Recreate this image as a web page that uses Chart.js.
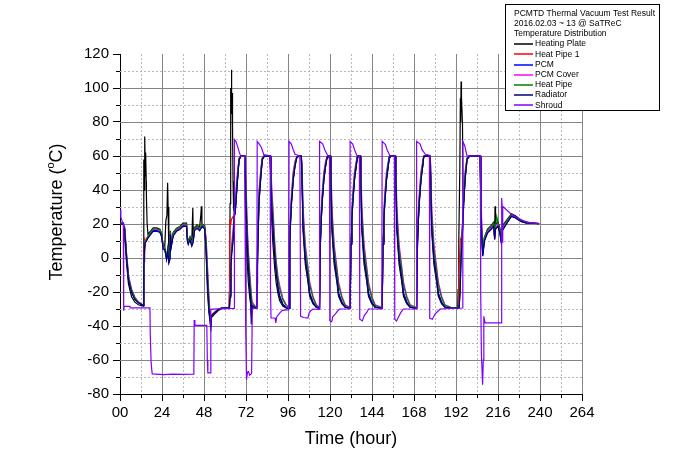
<!DOCTYPE html>
<html><head><meta charset="utf-8">
<script src="https://cdn.jsdelivr.net/npm/chart.js@4.4.1/dist/chart.umd.min.js"></script>
<style>html,body{margin:0;padding:0;background:#fff;}</style>
</head><body>
<canvas id="c" width="680" height="453"></canvas>
<script>
// ---- Data: [time (hour), temperature (°C)] ----
const seriesNames = ['Heating Plate','Heat Pipe 1','PCM','PCM Cover','Heat Pipe','Radiator','Shroud'];
const legendTitle = ['PCMTD Thermal Vacuum Test Result','2016.02.03 ~ 13 @ SaTReC','Temperature Distribution'];
const xTickStep = 24, yTickStep = 20;

const heatingPlate = [
[0,20.5],[1.9,20.5],[2.3,16],[2.7,12],[3.3,4],[3.8,-4],[4.2,-8],[4.8,-15],[5.7,-19],[6.7,-23],[8.5,-26],[10.5,-27.5],[12.4,-28],[13.3,-28.3],
[13.5,-20],[13.7,58],[13.85,40],[14,50],[14.1,66],[14.25,71.5],[14.4,55],[14.5,62],[14.65,48],[14.8,62],[15,45],[15.1,36],[15.5,20],[16,14],[18,16.5],[19,17.7],[21,17.7],[22.8,17],[23.8,14.5],[24.7,7],[25.6,7],[26.2,22],[26.8,25],[27.2,44.3],[27.5,30],[27.9,2],[28.5,1],[28.8,16],[29.2,8],[30.4,15],[32.3,17.5],[34.2,18.5],[36,20.5],[38,20.5],[38.5,12],[39,10],[40,12.5],[41,9],[41.6,29.4],[41.9,11],[42.5,18],[44,19.5],[45.5,18],[46.2,25.5],[46.5,30.4],[46.8,20],[48.4,19],[49.2,3],[50,-20],[50.8,-32],[51.3,-36],[51.9,-38],[52.3,-35],[54,-33],[56,-31],[58,-29.8],[62.3,-29.6],
[62.5,-23],[62.7,-20],[62.9,32],[63.1,79],[63.4,100],[63.55,85],[63.7,110.7],[63.85,92],[64,97],[64.3,77],[64.6,45],[64.9,30],[65.3,26],[65.8,27],[66.6,39],[67.6,53],[68.1,58.5],[69.1,60.3],[71.4,60.3],[71.7,30],[72.2,12],[72.7,-2],[73.3,-14],[74.2,-24],[74.8,-28],[75.6,-29.5],[78,-29.6],
[78.3,-15],[78.6,5],[79.4,36],[80.5,50],[81.3,58.5],[82.4,60.3],[85.8,60.3],[86.2,44],[86.7,22],[87.4,8],[88.4,-6],[89.3,-15],[90.3,-21],[91.2,-25],[93,-28.3],[95,-29.4],[96.6,-29.6],
[97,10],[97.5,24],[98,34],[99,47],[100,55],[101,59.5],[102,60.3],[103.6,60.3],[104,46],[104.6,16],[105.9,-4],[107.4,-14],[108.4,-22.5],[110.3,-27],[112.2,-29],[114,-29.6],
[114.5,10],[115,24],[115.5,34],[116.5,47],[117.5,55],[118.3,59.5],[118.8,60.3],[120.1,60.3],[120.5,46],[121.1,16],[122.4,-4],[123.9,-14],[124.9,-22.5],[126.8,-27],[128.7,-29],[131.5,-29.6],
[132,10],[132.5,24],[133,34],[134,47],[135,55],[135.6,59.5],[135.9,60.3],[137.2,60.3],[137.6,46],[138.2,16],[139.5,-4],[141,-14],[142,-22.5],[143.9,-27],[145.8,-29],[149.8,-29.6],
[150.3,10],[150.8,24],[151.3,34],[152.3,47],[153.3,55],[153.9,59.5],[154.2,60.3],[157.2,60.3],[157.6,46],[158.2,16],[159.5,-4],[161,-14],[162,-22.5],[163.9,-27],[165.8,-29],[169.5,-29.6],
[170,10],[170.5,24],[171,34],[172,47],[173,55],[173.5,59.5],[173.8,60.3],[177.1,60.3],[177.5,46],[178.1,16],[179.4,-4],[180.9,-14],[181.9,-22.5],[183.8,-27],[185.7,-29],[189,-29.4],[193,-29.5],
[193.2,-18.6],[193.6,10],[194.2,54],[194.5,94],[194.7,80],[194.9,103.8],[195.05,88],[195.2,95],[195.7,79],[196,40],[196.4,33],[197.2,47],[198.3,58.5],[199.6,60.3],[205.8,60.3],[206.2,32],[206.6,16],[207.3,3],[208.2,12],[210,17],[212,19],[213.5,21],[214.1,14],[214.3,30.4],[214.6,20],[216,21],[217,18],[217.8,13],[218.5,19],[220,21],[221.5,23],[223.7,26],[226,24.8],[229,22.3],[232,21],[239.5,20.3]
];

const heatPipe1 = [
[0,20.2],[1.9,20.2],[2.3,17.5],[2.7,15.5],[3.3,8],[3.8,0],[4.2,-4],[4.8,-11.5],[5.7,-15.8],[6.7,-19.8],[8.5,-24],[10.5,-26],[12.4,-27.3],[13.3,-27.8],
[13.45,-15],[13.55,-6],[13.65,3],[13.8,-2],[14,12],[14.2,4],[14.5,10],[14.8,10.5],[15.2,11.2],[16.2,13],[18,15.3],[19,16.5],[21,16.5],[22.8,15.8],[23.8,13.2],[24.7,5.8],[25.6,5.8],[26.6,-0.2],[27.3,4.8],[27.9,-2.2],[28.5,-0.2],[28.8,14.8],[29.2,6.8],[30.4,13.8],[32.3,16.5],[34.2,17.5],[36,19.3],[38,19.3],[38.5,10.8],[39,8.8],[40,11.6],[41,7.8],[41.8,9.8],[42.5,16.8],[44,18.3],[45.5,16.8],[47,19.3],[48.4,17.8],[49.2,6],[50,-14],[50.8,-29],[51.3,-34.5],[51.9,-41],[52.3,-34],[54,-32.4],[56,-30.4],[58,-29.5],[62.2,-29.4],
[62.4,-20],[62.6,10],[62.9,22],[63.4,21],[63.8,23],[64.7,24.5],[65.3,25],[65.8,27],[66.6,39],[67.6,52.5],[68.1,58],[69.1,59.8],[71.4,59.8],[71.8,41],[72.2,25],[72.7,9.5],[73.3,-4],[74.2,-18],[74.8,-24],[75,-35],[75.3,-35],[75.6,-28.5],[77,-29],[78.1,-29.4],
[78.6,-0.5],[79.4,32.8],[80.5,48.3],[81.3,58],[82.4,59.8],[85.8,59.8],[86.2,46],[86.7,31],[87.4,19.5],[88.4,1.5],[89.3,-8.5],[90.3,-17.5],[91.2,-22.5],[93,-27.2],[95,-29.3],[96.6,-29.5],
[97,8.5],[97.5,22.5],[98,32.5],[99,46.5],[100,54.3],[101,59.1],[102,59.8],[103.6,59.8],[104,48.5],[104.6,19.3],[105.9,-0.5],[107.4,-11.5],[108.4,-21],[110.3,-26.2],[112.2,-28.9],[114,-29.5],
[114.5,8.5],[115,22.5],[115.5,32.5],[116.5,46.5],[117.5,54.3],[118.3,59.1],[118.8,59.8],[120.1,59.8],[120.5,48.5],[121.1,19.3],[122.4,-0.5],[123.9,-11.5],[124.9,-21],[126.8,-26.2],[128.7,-28.9],[131.5,-29.5],
[132,8.5],[132.5,22.5],[133,32.5],[134,46.5],[135,54.3],[135.6,59.1],[135.9,59.8],[137.2,59.8],[137.6,48.5],[138.2,19.3],[139.5,-0.5],[141,-11.5],[142,-21],[143.9,-26.2],[145.8,-28.9],[149.8,-29.5],
[150.3,8.5],[150.8,22.5],[151.3,32.5],[152.3,46.5],[153.3,54.3],[153.9,59.1],[154.2,59.8],[157.2,59.8],[157.6,48.5],[158.2,19.3],[159.5,-0.5],[161,-11.5],[162,-21],[163.9,-26.2],[165.8,-28.9],[169.5,-29.5],
[170,8.5],[170.5,22.5],[171,32.5],[172,46.5],[173,54.3],[173.5,59.1],[173.8,59.8],[177.1,59.8],[177.5,48.5],[178.1,19.3],[179.4,-0.5],[180.9,-11.5],[181.9,-21],[183.8,-26.2],[185.7,-28.9],[189,-29.3],[193.3,-29.3],
[193.5,-17],[194,0],[194.5,10.8],[195,12],[195.7,18.6],[196.4,32.5],[197.2,46.5],[198.3,58],[199.6,59.8],[205.8,59.8],[206.2,32],[206.6,16],[207.3,2],[208.2,10.5],[210,15.3],[212,17.3],[213.5,19.2],[214.1,11.5],[214.6,17.6],[216,19.2],[217,15.6],[217.8,10.2],[218.5,16.6],[220,19.2],[221.5,21.5],[223.7,24.8],[226,23.8],[229,21.7],[232,20.7],[239.5,20.2]
];

const pcm = [
[0,20],[1.9,20],[2.3,17.3],[2.7,15.3],[3.3,7.5],[3.8,-0.5],[4.2,-4.5],[4.8,-12],[5.7,-16.2],[6.7,-20],[8.5,-24.2],[10.5,-26.2],[12.4,-27.4],[13.3,-27.9],
[13.6,-4],[14,6],[14.3,9],[15.2,10.5],[16.2,12.5],[18,15],[19,16.2],[21,16.2],[22.8,15.5],[23.8,13],[24.7,5.5],[25.6,5.5],[26.6,-0.5],[27.3,4.5],[27.9,-2.5],[28.5,-0.5],[28.8,14.5],[29.2,6.5],[30.4,13.5],[32.3,16.2],[34.2,17.2],[36,19],[38,19],[38.5,10.5],[39,8.5],[40,11.3],[41,7.5],[41.8,9.5],[42.5,16.5],[44,18],[45.5,16.5],[47,19],[48.4,17.5],[49.2,7],[50,-12],[50.8,-28],[51.3,-34],[51.9,-40],[52.3,-34],[54,-32.3],[56,-30.4],[58,-29.5],[62.5,-29.4],
[62.9,-22],[63.4,-4],[63.8,3],[64.7,11.5],[65.3,24.8],[65.8,26.5],[66.6,39],[67.6,52.5],[68.1,58],[69.1,59.8],[71.4,59.8],[71.8,42],[72.2,26],[72.7,10],[73.3,-3.5],[74.2,-17],[74.8,-23.5],[75,-33],[75.3,-33],[75.6,-28],[77,-29],[78.1,-29.4],
[78.6,0],[79.4,33],[80.5,48.5],[81.3,58],[82.4,59.8],[85.8,59.8],[86.2,47],[86.7,32],[87.4,20],[88.4,2],[89.3,-8],[90.3,-17],[91.2,-22],[93,-27],[95,-29.2],[96.6,-29.5],
[97,9],[97.5,23],[98,33],[99,47],[100,54.5],[101,59.2],[102,59.8],[103.6,59.8],[104,49.5],[104.6,20],[105.9,0],[107.4,-11],[108.4,-20.5],[110.3,-26],[112.2,-28.8],[114,-29.5],
[114.5,9],[115,23],[115.5,33],[116.5,47],[117.5,54.5],[118.3,59.2],[118.8,59.8],[120.1,59.8],[120.5,49.5],[121.1,20],[122.4,0],[123.9,-11],[124.9,-20.5],[126.8,-26],[128.7,-28.8],[131.5,-29.5],
[132,9],[132.5,23],[133,33],[134,47],[135,54.5],[135.6,59.2],[135.9,59.8],[137.2,59.8],[137.6,49.5],[138.2,20],[139.5,0],[141,-11],[142,-20.5],[143.9,-26],[145.8,-28.8],[149.8,-29.5],
[150.3,9],[150.8,23],[151.3,33],[152.3,47],[153.3,54.5],[153.9,59.2],[154.2,59.8],[157.2,59.8],[157.6,49.5],[158.2,20],[159.5,0],[161,-11],[162,-20.5],[163.9,-26],[165.8,-28.8],[169.5,-29.5],
[170,9],[170.5,23],[171,33],[172,47],[173,54.5],[173.5,59.2],[173.8,59.8],[177.1,59.8],[177.5,49.5],[178.1,20],[179.4,0],[180.9,-11],[181.9,-20.5],[183.8,-26],[185.7,-28.8],[189,-29.3],[193.8,-29.4],
[194.3,-19],[194.9,0],[195.9,19.5],[196.4,33],[197.2,47],[198.3,58],[199.6,59.8],[205.8,59.8],[206.2,31],[206.6,15.5],[207.3,1.5],[208.2,10.2],[210,15],[212,17],[213.5,19],[214.1,11.2],[214.6,17.4],[216,19],[217,15.4],[217.8,10],[218.5,16.4],[220,19],[221.5,21.3],[223.7,24.7],[226,23.7],[229,21.6],[232,20.6],[239.5,20.2]
];

const pcmCover = [
[0,20.3],[1.9,20.3],[2.3,18.5],[2.7,17],[3.3,10],[3.8,2],[4.2,-2],[4.8,-9.5],[5.7,-14],[6.7,-18.5],[8.5,-23],[10.5,-25.8],[12.4,-27],[13.3,-27.6],
[13.6,-3],[14,6],[14.3,9.5],[15.2,11],[16.2,13],[18,15.5],[19,16.8],[21,16.8],[22.8,16],[23.8,13.5],[24.7,6],[25.6,6],[26.6,0],[27.3,5],[27.9,-2],[28.5,0],[28.8,15],[29.2,7],[30.4,14],[32.3,16.8],[34.2,17.8],[36,19.5],[38,19.5],[38.5,11],[39,9],[40,11.8],[41,8],[41.8,10],[42.5,17],[44,18.5],[45.5,17],[47,19.5],[48.4,18],[49.2,12],[50,-5],[50.8,-22],[51.3,-30],[51.9,-34],[52.3,-33.5],[54,-31.8],[56,-30.2],[58,-29.4],[62.5,-29.2],
[62.9,-14],[63.4,0],[63.8,8],[64.7,18],[65.3,26],[65.8,30],[66.6,45],[67.6,55],[68.1,59],[69.1,59.8],[71.4,59.8],[71.8,54],[72.2,38],[72.7,20],[73.3,5],[74.2,-9],[74.8,-18],[75.3,-24],[75.6,-26],[77,-28],[78.1,-29],
[78.6,8],[79.4,40],[80.5,53],[81.3,59],[82.4,59.8],[85.8,59.8],[86.2,55],[86.7,42],[87.4,30],[88.4,10],[89.3,-2],[90.3,-11],[91.2,-16],[93,-23.5],[95,-27.5],[96.6,-29.2],
[97,14],[97.5,28],[98,38],[99,51],[100,57],[101,59.5],[102,59.8],[103.6,59.8],[104,56],[104.6,30],[105.9,8],[107.4,-5],[108.4,-14],[110.3,-22.5],[112.2,-27.5],[114,-29.2],
[114.5,14],[115,28],[115.5,38],[116.5,51],[117.5,57],[118.3,59.5],[118.8,59.8],[120.1,59.8],[120.5,56],[121.1,30],[122.4,8],[123.9,-5],[124.9,-14],[126.8,-22.5],[128.7,-27.5],[131.5,-29.2],
[132,14],[132.5,28],[133,38],[134,51],[135,57],[135.6,59.5],[135.9,59.8],[137.2,59.8],[137.6,56],[138.2,30],[139.5,8],[141,-5],[142,-14],[143.9,-22.5],[145.8,-27.5],[149.8,-29.2],
[150.3,14],[150.8,28],[151.3,38],[152.3,51],[153.3,57],[153.9,59.5],[154.2,59.8],[157.2,59.8],[157.6,56],[158.2,30],[159.5,8],[161,-5],[162,-14],[163.9,-22.5],[165.8,-27.5],[169.5,-29.2],
[170,14],[170.5,28],[171,38],[172,51],[173,57],[173.5,59.5],[173.8,59.8],[177.1,59.8],[177.5,56],[178.1,30],[179.4,8],[180.9,-5],[181.9,-14],[183.8,-22.5],[185.7,-27.5],[189,-29],[193.8,-29.2],
[194.3,-12],[194.9,6],[195.9,24],[196.4,38],[197.2,51],[198.3,59],[199.6,59.8],[205.8,59.8],[206.2,44],[206.6,24],[207.3,8],[208.2,11],[210,15.8],[212,17.8],[213.5,19.8],[214.1,12.5],[214.6,18],[216,19.8],[217,16],[217.8,11],[218.5,17],[220,19.8],[221.5,22],[223.7,25],[226,24],[229,21.8],[232,20.7],[239.5,20.2]
];

const heatPipe = [
[0,20.5],[1.9,20.5],[2.3,18],[2.7,16],[3.3,9],[3.8,1],[4.2,-3],[4.8,-10.8],[5.7,-15],[6.7,-19],[8.5,-23.5],[10.5,-26],[12.4,-27.2],[13.3,-27.8],
[13.6,-8],[14,3],[14.3,9.5],[15.2,11.5],[16.2,13.5],[18,16],[19,17.2],[21,17.2],[22.8,16.5],[23.8,14],[24.7,7],[25.6,6.5],[26.6,1],[27.3,6],[27.9,-1],[28.5,1],[28.8,15.5],[29.2,8],[30.4,14.5],[32.3,17.2],[34.2,18.2],[36,20],[38,20],[38.5,12],[39,10],[40,12.3],[41,9],[41.8,11],[42.5,17.5],[44,19],[45.5,17.5],[47,20],[48.4,18.5],[49.2,10],[50,-8],[50.8,-25],[51.3,-32],[51.9,-36],[52.3,-34],[54,-32],[56,-30.5],[58,-29.5],[62.5,-29.2],
[62.9,-20],[63.4,-2],[63.8,5],[64.7,14],[65.3,26],[65.8,28],[66.6,42],[67.6,54],[68.1,58.5],[69.1,59.8],[71.4,59.8],[71.8,50],[72.2,32],[72.7,16],[73.3,2],[74.2,-12],[74.8,-20],[75.3,-26],[75.6,-27],[77,-28.4],[78.1,-29.2],
[78.6,4],[79.4,36],[80.5,51],[81.3,58.5],[82.4,59.8],[85.8,59.8],[86.2,52],[86.7,38],[87.4,25],[88.4,7],[89.3,-4],[90.3,-13],[91.2,-18],[93,-24.5],[95,-28],[96.6,-29.4],
[97,12],[97.5,26],[98,35],[99,49],[100,56],[101,59.3],[102,59.8],[103.6,59.8],[104,54],[104.6,26],[105.9,5],[107.4,-7],[108.4,-16],[110.3,-23.5],[112.2,-27.8],[114,-29.4],
[114.5,12],[115,26],[115.5,35],[116.5,49],[117.5,56],[118.3,59.3],[118.8,59.8],[120.1,59.8],[120.5,54],[121.1,26],[122.4,5],[123.9,-7],[124.9,-16],[126.8,-23.5],[128.7,-27.8],[131.5,-29.4],
[132,12],[132.5,26],[133,35],[134,49],[135,56],[135.6,59.3],[135.9,59.8],[137.2,59.8],[137.6,54],[138.2,26],[139.5,5],[141,-7],[142,-16],[143.9,-23.5],[145.8,-27.8],[149.8,-29.4],
[150.3,12],[150.8,26],[151.3,35],[152.3,49],[153.3,56],[153.9,59.3],[154.2,59.8],[157.2,59.8],[157.6,54],[158.2,26],[159.5,5],[161,-7],[162,-16],[163.9,-23.5],[165.8,-27.8],[169.5,-29.4],
[170,12],[170.5,26],[171,35],[172,49],[173,56],[173.5,59.3],[173.8,59.8],[177.1,59.8],[177.5,54],[178.1,26],[179.4,5],[180.9,-7],[181.9,-16],[183.8,-23.5],[185.7,-27.8],[189,-29],[193.8,-29.2],
[194.3,-14],[194.9,4],[195.9,22],[196.4,36],[197.2,49],[198.3,58.5],[199.6,59.8],[205.8,59.8],[206.2,40],[206.6,20],[207.3,6],[208.2,12],[210,16.5],[212,18.5],[213.5,20.5],[214.1,14],[214.6,19],[215.3,24.5],[216,20.5],[217,17],[217.8,12],[218.5,18],[220,20.3],[221.5,22.5],[223.7,25.5],[226,24.3],[229,22],[232,20.8],[239.5,20.3]
];

const radiator = [
[0,20],[1.9,20],[2.3,17],[2.7,14.9],[3.3,6.8],[3.8,-1],[4.2,-4.9],[4.8,-12.8],[5.7,-16.7],[6.7,-20.5],[8.5,-24.5],[10.5,-26.4],[12.4,-27.5],[13.3,-28],
[13.6,-5],[14,5],[14.3,8.8],[15.2,10],[16.2,12],[18,14.5],[19,15.7],[21,15.7],[22.8,15],[23.8,12.5],[24.7,5],[25.6,4.9],[26.6,-1],[27.3,4],[27.9,-3],[28.5,-1],[28.8,14],[29.2,6],[30.4,13],[32.3,15.7],[34.2,16.7],[36,18.6],[38,18.6],[38.5,10],[39,8],[40,10.8],[41,7],[41.8,9],[42.5,16],[44,17.5],[45.5,16],[47,18.5],[48.4,17],[49.2,5],[50,-15],[50.8,-30],[51.3,-35],[51.9,-43],[52.3,-34],[54,-32.5],[56,-30.5],[58,-29.5],[62.5,-29.4],
[62.9,-23],[63.4,-5],[63.8,2],[64.7,10.8],[65.3,24.5],[65.8,26],[66.6,38],[67.6,52],[68.1,57.8],[69.1,59.8],[71.4,59.8],[71.8,40],[72.2,24.5],[72.7,8.8],[73.3,-4.9],[74.2,-18.6],[74.8,-24.5],[75,-39],[75.3,-39],[75.6,-28.5],[77,-29],[78.1,-29.4],
[78.6,-1],[79.4,32.4],[80.5,48],[81.3,57.8],[82.4,59.8],[85.8,59.8],[86.2,45],[86.7,30],[87.4,18.6],[88.4,1],[89.3,-9],[90.3,-18],[91.2,-23],[93,-27.5],[95,-29.4],[96.6,-29.6],
[97,8],[97.5,22],[98,32],[99,46],[100,54],[101,59],[102,59.8],[103.6,59.8],[104,48],[104.6,18.6],[105.9,-1],[107.4,-12],[108.4,-21.5],[110.3,-26.5],[112.2,-29],[114,-29.6],
[114.5,8],[115,22],[115.5,32],[116.5,46],[117.5,54],[118.3,59],[118.8,59.8],[120.1,59.8],[120.5,48],[121.1,18.6],[122.4,-1],[123.9,-12],[124.9,-21.5],[126.8,-26.5],[128.7,-29],[131.5,-29.6],
[132,8],[132.5,22],[133,32],[134,46],[135,54],[135.6,59],[135.9,59.8],[137.2,59.8],[137.6,48],[138.2,18.6],[139.5,-1],[141,-12],[142,-21.5],[143.9,-26.5],[145.8,-29],[149.8,-29.6],
[150.3,8],[150.8,22],[151.3,32],[152.3,46],[153.3,54],[153.9,59],[154.2,59.8],[157.2,59.8],[157.6,48],[158.2,18.6],[159.5,-1],[161,-12],[162,-21.5],[163.9,-26.5],[165.8,-29],[169.5,-29.6],
[170,8],[170.5,22],[171,32],[172,46],[173,54],[173.5,59],[173.8,59.8],[177.1,59.8],[177.5,48],[178.1,18.6],[179.4,-1],[180.9,-12],[181.9,-21.5],[183.8,-26.5],[185.7,-29],[189,-29.4],[193.8,-29.4],
[194.3,-21],[194.9,-1],[195.9,18.6],[196.4,32],[197.2,46],[198.3,57.8],[199.6,59.8],[205.8,59.8],[206.2,30],[206.6,14.7],[207.3,1],[208.2,9.8],[210,14.7],[212,16.7],[213.5,18.6],[214.1,10.8],[214.6,17],[216,18.6],[217,15],[217.8,9.5],[218.5,16],[220,18.6],[221.5,21],[223.7,24.5],[226,23.5],[229,21.5],[232,20.6],[239.5,20.2]
];

const shroud = [
[0,28.4],[0.5,24],[1.5,20.7],[1.9,20.7],[2.1,-31],[2.4,-28.4],[5.7,-28.4],[5.8,-29.3],[17.1,-29.3],[17.3,-45],[17.8,-62],[18.4,-68.2],[25,-68.6],[30,-68.3],[36,-68.5],[42.2,-68.4],[42.4,-36.5],[42.8,-39.6],[49.6,-39.6],[49.9,-60],[50.2,-67.6],[51.5,-67.6],[51.9,-30.2],[58,-29.8],[65.2,-29.6],
[65.4,69.6],[66.2,68.6],[67.2,65.7],[68.2,62],[69.1,59.7],[71.2,59.7],[71.5,20],[71.8,-40],[72.3,-71.6],[72.9,-67],[73.4,-66.8],[74.1,-69],[75.2,-68],[75.6,-29.6],[78.2,-29.6],
[78.4,68.6],[79.6,67],[80.8,65],[82.2,60.8],[85.8,60],[86,-18.6],[86.3,-35.3],[88.6,-35.3],[89,-38.2],[89.6,-34.5],[91.2,-32.4],[92.8,-30.8],[96.4,-30.4],
[96.6,68.6],[97.9,67],[98.9,64],[100,61],[102.8,60],[103.2,-34.3],[105,-35],[107.4,-35.3],[108,-32.5],[109,-31],[110.3,-30],[113.9,-30.2],
[114.05,68.6],[115.9,67],[117,63.7],[118.8,60],[119.7,60],[119.9,-37],[121,-37.5],[121.6,-34.5],[123,-33],[124.5,-31],[125.5,-30],[131.3,-30],
[131.5,68.6],[133,67],[134,63.7],[135.5,60],[136.8,60],[137,-36],[138.5,-37],[139.5,-34],[141,-32],[142,-30],[149.6,-30],
[149.8,68.6],[151.7,66.7],[152.6,63.7],[154.3,60],[156.8,60],[157,-36],[158,-37],[159.5,-34],[160.5,-32],[162,-30],[169.3,-30],
[169.5,68.6],[171.5,67],[172.6,63.7],[174.5,61],[176.8,60.5],[177,-35.5],[178.5,-36],[180,-33],[181.5,-31.5],[183,-30],[190,-29.6],[195.7,-29.4],
[195.9,68.6],[197,66],[198.3,60],[205.9,60],[206.1,-18.6],[206.5,-56],[207.2,-74.5],[207.6,-60],[207.9,-34.3],[208.6,-38.2],[217.8,-38.2],[218.1,35.3],[218.4,30.4],[218.6,9],[218.8,30.4],[222.8,26.5],[227,23.5],[231.8,21.5],[235,20.6],[239.5,20.2]
];

const seriesData = [heatingPlate, heatPipe1, pcm, pcmCover, heatPipe, radiator, shroud];
const seriesColors = ['#000000','#ff0000','#0000ff','#ff00ff','#008000','#000080','#8000ff'];
// -----------------------------------------------------------------------------

const FONT = "'Liberation Sans', Arial, Helvetica, sans-serif";

const datasets = seriesNames.map((name, i) => ({
  label: name,
  data: seriesData[i].map(p => ({x: p[0], y: p[1]})),
  borderColor: seriesColors[i],
  backgroundColor: seriesColors[i],
  borderWidth: 1.2,
  pointRadius: 0,
  tension: 0,
  fill: false,
  order: seriesNames.length - 1 - i   // later series drawn on top, like the original
}));

const extras = {
  id: 'extras',
  beforeDatasetsDraw(chart) {
    const {ctx, chartArea: a, scales: {x, y}} = chart;
    ctx.save();
    ctx.lineWidth = 1;
    const ln = (x1, y1, x2, y2) => { ctx.beginPath(); ctx.moveTo(x1, y1); ctx.lineTo(x2, y2); ctx.stroke(); };
    ctx.strokeStyle = '#b9b9b9';
    ctx.setLineDash([2, 2]);
    for (let v = x.min + xTickStep / 2; v < x.max; v += xTickStep) {
      const px = Math.round(x.getPixelForValue(v)) + 0.5; ln(px, a.top, px, a.bottom);
    }
    for (let v = y.min + yTickStep / 2; v < y.max; v += yTickStep) {
      const py = Math.round(y.getPixelForValue(v)) + 0.5; ln(a.left, py, a.right, py);
    }
    ctx.setLineDash([]);
    ctx.strokeStyle = '#858585';
    for (let v = x.min + xTickStep; v <= x.max; v += xTickStep) {
      const px = Math.round(x.getPixelForValue(v)) + 0.5; ln(px, a.top, px, a.bottom);
    }
    for (let v = y.min + yTickStep; v < y.max; v += yTickStep) {
      const py = Math.round(y.getPixelForValue(v)) + 0.5; ln(a.left, py, a.right, py);
    }
    ctx.restore();
  },
  afterDraw(chart) {
    const {ctx, chartArea: a, scales: {x, y}} = chart;
    ctx.save();
    ctx.lineWidth = 1;
    ctx.strokeStyle = '#000';
    const ln = (x1, y1, x2, y2) => { ctx.beginPath(); ctx.moveTo(x1, y1); ctx.lineTo(x2, y2); ctx.stroke(); };
    for (let v = x.min + xTickStep / 2; v < x.max; v += xTickStep) {
      const px = Math.round(x.getPixelForValue(v)) + 0.5; ln(px, a.bottom, px, a.bottom + 4);
    }
    for (let v = y.min + yTickStep / 2; v < y.max; v += yTickStep) {
      const py = Math.round(y.getPixelForValue(v)) + 0.5; ln(a.left - 4, py, a.left, py);
    }
    // y axis title with superscript o
    ctx.fillStyle = '#000';
    ctx.translate(57, 212);
    ctx.rotate(-Math.PI / 2);
    ctx.textBaseline = 'middle';
    ctx.textAlign = 'left';
    const big = '18px ' + FONT, small = '11px ' + FONT;
    const p1 = 'Temperature (', p2 = 'o', p3 = 'C)';
    ctx.font = big; const w1 = ctx.measureText(p1).width, w3 = ctx.measureText(p3).width;
    ctx.font = small; const w2 = ctx.measureText(p2).width;
    let sx = -(w1 + w2 + w3) / 2;
    ctx.font = big; ctx.fillText(p1, sx, 0); sx += w1;
    ctx.font = small; ctx.fillText(p2, sx, -6); sx += w2;
    ctx.font = big; ctx.fillText(p3, sx, 0);
    ctx.setTransform(1, 0, 0, 1, 0, 0);
    // legend box
    const bx = 505, by = 4, bw = 154, bh = 106;
    ctx.fillStyle = '#fff';
    ctx.fillRect(bx, by, bw, bh);
    ctx.lineWidth = 1;
    ctx.strokeStyle = '#000';
    ctx.strokeRect(bx + 0.5, by + 0.5, bw, bh);
    ctx.font = '8.5px ' + FONT;
    ctx.textBaseline = 'middle';
    ctx.textAlign = 'left';
    let yy = 13.5;
    const dy = 10.2;
    legendTitle.forEach(t => { ctx.fillStyle = '#000'; ctx.fillText(t, 514, yy); yy += dy; });
    seriesNames.forEach((n, i) => {
      ctx.lineWidth = 1.5;
      ctx.strokeStyle = seriesColors[i];
      const ly = Math.round(yy);
      ln(514, ly, 533, ly);
      ctx.fillStyle = '#000';
      ctx.fillText(n, 535, yy);
      yy += dy;
    });
    ctx.restore();
  }
};

new Chart(document.getElementById('c'), {
  type: 'line',
  data: {datasets},
  plugins: [extras],
  options: {
    responsive: false,
    animation: false,
    devicePixelRatio: 1,
    layout: {padding: {left: 0, top: 54, right: 98, bottom: 0}},
    plugins: {legend: {display: false}, tooltip: {enabled: false}, title: {display: false}},
    elements: {point: {radius: 0}, line: {borderWidth: 1.2, tension: 0}},
    scales: {
      x: {
        type: 'linear', min: 0, max: 264,
        ticks: {stepSize: xTickStep, autoSkip: false, maxRotation: 0, color: '#000', padding: 3,
                font: {family: FONT, size: 15}, callback: v => v === 0 ? '00' : String(v)},
        grid: {drawOnChartArea: false, drawTicks: true, tickLength: 7, tickColor: '#000', tickWidth: 1},
        border: {display: true, color: '#000', width: 1},
        title: {display: true, text: 'Time (hour)', color: '#000', font: {family: FONT, size: 18}, padding: {top: 0, bottom: 3}},
        afterFit: s => { s.height = 59; }
      },
      y: {
        type: 'linear', min: -80, max: 120,
        ticks: {stepSize: yTickStep, autoSkip: false, color: '#000', padding: 4, font: {family: FONT, size: 15}},
        grid: {drawOnChartArea: false, drawTicks: true, tickLength: 7, tickColor: '#000', tickWidth: 1},
        border: {display: true, color: '#000', width: 1},
        title: {display: false},
        afterFit: s => { s.width = 120; }
      }
    }
  }
});
</script>
</body></html>
